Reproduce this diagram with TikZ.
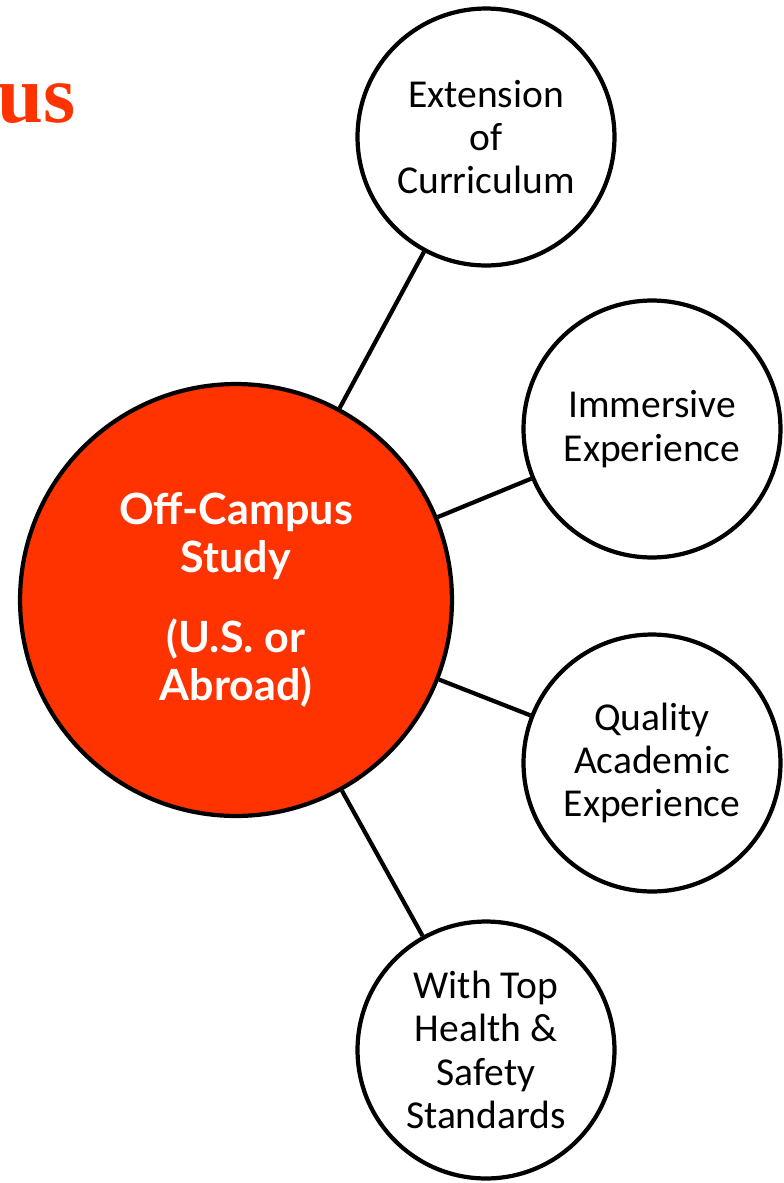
\documentclass[tikz,border=0pt]{standalone}
\usepackage{fontspec}
\setmainfont{Carlito}
\newfontfamily\hubfont{Lato}
\newfontfamily\titlefont{Liberation Serif}
\usepackage{tikz}
\definecolor{hubred}{HTML}{FF3300}

\begin{document}
\begin{tikzpicture}[x=0.02cm, y=-0.02cm,
    leaf/.style={circle, draw=black, line width=2.4pt, fill=white, minimum size=5.14cm,
      inner sep=0pt, align=center, font=\fontsize{22.5}{24.6}\selectfont},
    hub/.style={circle, draw=black, line width=2.4pt, fill=hubred, minimum size=8.64cm,
      inner sep=0pt, align=center, text=white, font=\hubfont\bfseries\fontsize{24.5}{27.5}\selectfont},
    spoke/.style={line width=2.4pt}]

  \useasboundingbox (0,0) rectangle (784,1183);

  % cut-off heading at the left edge
  \node[anchor=base east, inner sep=0pt, text=hubred,
    font=\titlefont\bfseries\fontsize{47}{50}\selectfont] (title) at (76,122) {us};

  % centre circle and the four outer circles
  \node[hub] (hub) at (236,600) {Off-Campus\\Study\\[0.62cm](U.S. or\\Abroad)};
  \node[leaf] (ext) at (486,137) {Extension\\of\\Curriculum};
  \node[leaf] (imm) at (652,429) {Immersive\\Experience};
  \node[leaf] (qual) at (652,763) {Quality\\Academic\\Experience};
  \node[leaf] (safe) at (486,1050) {With Top\\Health \&\\Safety\\Standards};

  % spokes
  \foreach \n in {ext, imm, qual, safe} {
    \draw[spoke] (hub) -- (\n);
  }

\end{tikzpicture}
\end{document}
